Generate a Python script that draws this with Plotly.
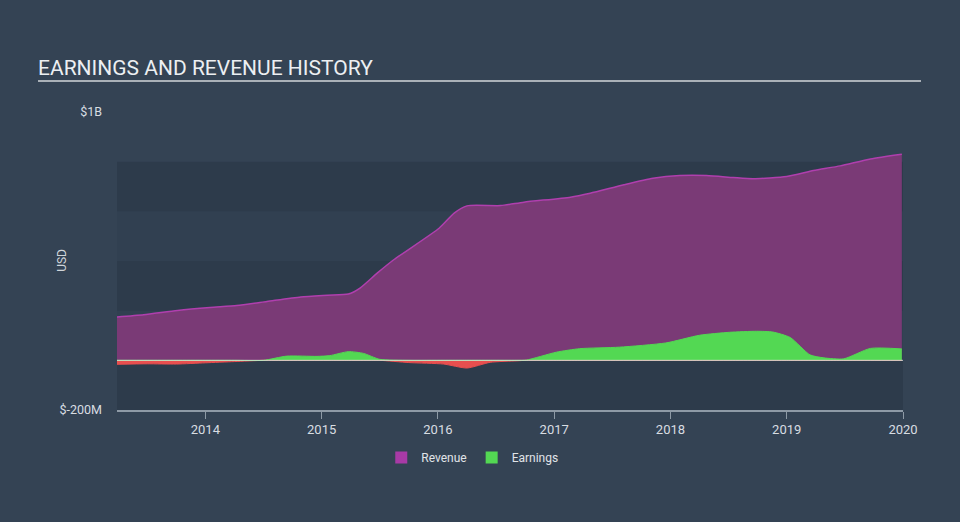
import plotly.graph_objects as go

# ---- data (USD millions, x in decimal years) ----
rev_x = [2013.24, 2013.47, 2013.76, 2014.04, 2014.27, 2014.53, 2014.82, 2015.05, 2015.23,
         2015.33, 2015.48, 2015.62, 2016.01, 2016.14, 2016.25, 2016.54, 2016.74, 2017.14,
         2017.31, 2017.60, 2017.85, 2018.08, 2018.31, 2018.54, 2018.71, 2019.00, 2019.23,
         2019.46, 2019.72, 2019.99]
rev_y = [175, 184, 201, 213, 221, 237, 255, 262, 267,
         291, 352, 405, 532, 593, 622, 623, 637, 657,
         673, 707, 733, 744, 744, 736, 731, 740, 764,
         783, 811, 830]

earn_x = [2013.24, 2013.5, 2013.75, 2014.0, 2014.25, 2014.5, 2014.7, 2014.96, 2015.07, 2015.23,
          2015.36, 2015.5, 2015.75, 2016.05, 2016.25, 2016.45, 2016.68, 2016.76, 2017.02, 2017.22,
          2017.56, 2017.96, 2018.25, 2018.51, 2018.74, 2018.88, 2019.03, 2019.20, 2019.32, 2019.49,
          2019.72, 2019.99]
earn_y = [-16, -14, -15, -10, -5, 0, 17, 16, 19, 35,
          28, 4, -9, -15, -31, -8, -2, 1, 33, 47,
          53, 70, 101, 113, 117, 114, 92, 22, 10, 6,
          48, 46]

year_ticks = [2014, 2015, 2016, 2017, 2018, 2019, 2020]
y_tickvals = [-200, 1000]
y_ticktext = ["$-200M", "$1B"]
band_edges = [-200, 0, 200, 400, 600, 800]

PURPLE_FILL = "#7a3a76"
PURPLE_LINE = "#b03fae"
GREEN = "#53d853"
RED = "#e84f4f"

earn_pos = [max(v, 0) for v in earn_y]
earn_neg = [min(v, 0) for v in earn_y]

fig = go.Figure()
fig.add_trace(go.Scatter(x=rev_x, y=rev_y, mode="lines", fill="tozeroy",
                         fillcolor=PURPLE_FILL, line=dict(color=PURPLE_LINE, width=1.5, shape="spline", smoothing=0.6),
                         showlegend=False, hoverinfo="skip"))
fig.add_trace(go.Scatter(x=earn_x, y=earn_neg, mode="lines", fill="tozeroy",
                         fillcolor=RED, line=dict(color=RED, width=1, shape="spline", smoothing=0.6),
                         showlegend=False, hoverinfo="skip"))
fig.add_trace(go.Scatter(x=earn_x, y=earn_pos, mode="lines", fill="tozeroy",
                         fillcolor=GREEN, line=dict(color=GREEN, width=1, shape="spline", smoothing=0.6),
                         showlegend=False, hoverinfo="skip"))
# legend entries
fig.add_trace(go.Scatter(x=[None], y=[None], mode="markers", name="Revenue",
                         marker=dict(symbol="square", size=14, color="#a83aa6")))
fig.add_trace(go.Scatter(x=[None], y=[None], mode="markers", name="Earnings",
                         marker=dict(symbol="square", size=14, color=GREEN)))

shapes = []
# plot background bands
for i in range(len(band_edges) - 1):
    col = "#2d3b4b" if i % 2 == 0 else "#314051"
    shapes.append(dict(type="rect", xref="paper", yref="y", x0=0, x1=1,
                       y0=band_edges[i], y1=band_edges[i + 1], fillcolor=col,
                       line=dict(width=0), layer="below"))
# zero line
shapes.append(dict(type="line", xref="paper", yref="y", x0=0, x1=1, y0=0, y1=0,
                   line=dict(color="rgba(230,230,230,0.85)", width=1), layer="above"))
# title underline
shapes.append(dict(type="line", xref="paper", yref="paper", x0=-0.1005, x1=1.0229,
                   y0=1.1039, y1=1.1039, line=dict(color="#aab1b8", width=2)))

fig.update_layout(
    width=960, height=522,
    margin=dict(l=117, r=57, t=112, b=111.5),
    paper_bgcolor="#344354",
    plot_bgcolor="rgba(0,0,0,0)",
    font=dict(family="Roboto", color="#d8dde2", size=12),
    shapes=shapes,
    showlegend=True,
    legend=dict(orientation="h", x=0.452, xanchor="center", y=-0.159, yanchor="middle",
                font=dict(size=12, color="#e0e4e8"), bgcolor="rgba(0,0,0,0)",
                itemsizing="constant", itemwidth=30),
    annotations=[
        dict(text="EARNINGS AND REVENUE HISTORY", xref="paper", yref="paper",
             x=-0.1035, y=1.1474, xanchor="left", yanchor="middle", showarrow=False,
             font=dict(size=21, color="#eceff2", family="Roboto")),
        dict(text="USD", xref="paper", yref="paper", x=-0.07, y=0.504, textangle=-90,
             showarrow=False, xanchor="center", yanchor="middle",
             font=dict(size=12, color="#d0d5da")),
    ],
    xaxis=dict(range=[2013.24, 2020.0], tickvals=year_ticks, ticktext=[str(v) for v in year_ticks],
               showgrid=False, zeroline=False, showline=True, linecolor="#8e9aa6", linewidth=1.5,
               ticks="outside", ticklen=7, tickcolor="#8e9aa6", tickfont=dict(size=13, color="#d8dde2")),
    yaxis=dict(range=[-200, 1000], tickvals=y_tickvals, ticktext=y_ticktext, showgrid=False,
               zeroline=False, showline=False, ticks="", ticklabelstandoff=14,
               tickfont=dict(size=12.5, color="#d8dde2")),
)

fig.write_html("out.html")
